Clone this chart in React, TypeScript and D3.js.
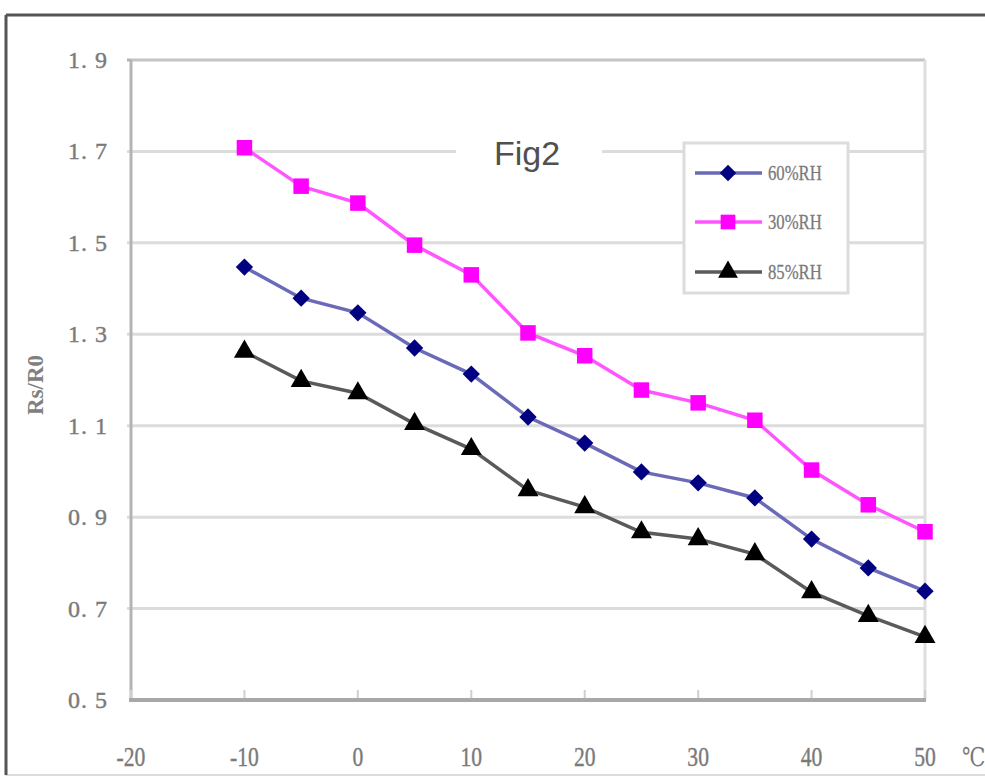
import React from "react";
import * as d3 from "d3";

const temps = [-10, -5, 0, 5, 10, 15, 20, 25, 30, 35, 40, 45, 50];
const rh60 = [1.447, 1.379, 1.347, 1.27, 1.213, 1.119, 1.062, 0.999, 0.975, 0.942, 0.852, 0.789, 0.738];
const rh30 = [1.708, 1.624, 1.587, 1.495, 1.43, 1.303, 1.253, 1.178, 1.15, 1.112, 1.003, 0.927, 0.868];
const rh85 = [1.262, 1.198, 1.171, 1.104, 1.049, 0.959, 0.922, 0.867, 0.852, 0.819, 0.736, 0.684, 0.638];
const xTicks = [-20, -10, 0, 10, 20, 30, 40, 50];
const yTicks = [0.5, 0.7, 0.9, 1.1, 1.3, 1.5, 1.7, 1.9];
const seriesNames = ["60%RH", "30%RH", "85%RH"];

const W = 985;
const H = 776;
const L = 131, R = 925, T = 60, B = 700;

export default function App() {
  const x = d3.scaleLinear().domain([-20, 50]).range([L, R]);
  const y = d3.scaleLinear().domain([0.5, 1.9]).range([B, T]);
  const series = [
    { name: seriesNames[0], values: rh60, line: "#6a6ab8", marker: "#000080", shape: "diamond" },
    { name: seriesNames[1], values: rh30, line: "#ff55ff", marker: "#ff00ff", shape: "square" },
    { name: seriesNames[2], values: rh85, line: "#5a5a5a", marker: "#000000", shape: "triangle" },
  ];
  const line = d3.line<number>().x((_, i) => x(temps[i])).y((v) => y(v));
  const sym = (shape: string, k: number) => {
    if (shape === "diamond") return d3.symbol().type(d3.symbolSquare).size(150 * k)() as string;
    if (shape === "square") return d3.symbol().type(d3.symbolSquare).size(240 * k)() as string;
    return d3.symbol().type(d3.symbolTriangle).size(190 * k)() as string;
  };
  const rot = (shape: string) => (shape === "diamond" ? " rotate(45)" : "");
  const serif = "'Liberation Serif', 'DejaVu Serif', serif";
  const legendX = 684, legendY = 143, legendW = 164, legendH = 150;
  const legendRows = [173, 222, 272];
  const labelFill = "#7a7a7a";

  return (
    <svg width={W} height={H} style={{ position: "absolute", left: 0, top: 0, background: "#fff" }}>
      <rect x={0} y={0} width={W} height={H} fill="#fff" />
      {/* outer chart border */}
      <rect x={6} y={15} width={W + 20} height={760} fill="none" stroke="#d0d0d0" strokeWidth={1.5} />
      <line x1={6} y1={15} x2={W} y2={15} stroke="#555" strokeWidth={3} />
      <line x1={6} y1={15} x2={6} y2={775} stroke="#555" strokeWidth={3} />

      {/* gridlines */}
      {yTicks.slice(1, -1).map((t) => (
        <line key={t} x1={L - 4} x2={R} y1={y(t)} y2={y(t)} stroke="#dcdcdc" strokeWidth={3} />
      ))}
      {/* plot frame */}
      <line x1={L} x2={R} y1={T} y2={T} stroke="#c4c4c4" strokeWidth={3} />
      <line x1={R} x2={R} y1={T} y2={B} stroke="#dedede" strokeWidth={3} />
      <line x1={L} x2={L} y1={T} y2={B} stroke="#b4b4b4" strokeWidth={3} />
      <line x1={L - 4} x2={L} y1={T} y2={T} stroke="#b4b4b4" strokeWidth={3} />
      {xTicks.map((t) => (
        <line key={t} x1={x(t)} x2={x(t)} y1={B} y2={B - 10} stroke="#cfcfcf" strokeWidth={2} />
      ))}
      <line x1={L - 2} x2={R + 1} y1={B} y2={B} stroke="#a8a8a8" strokeWidth={4} />

      {/* y tick labels */}
      {yTicks.map((t) => (
        <text key={t} x={108} y={y(t) + 8} textAnchor="end" fontFamily={serif} fontSize={24}
          fill={labelFill} stroke={labelFill} strokeWidth={0.4} letterSpacing={1}>
          {t.toFixed(1).replace(".", ". ")}
        </text>
      ))}
      {/* x tick labels */}
      {xTicks.map((t) => (
        <text key={t} transform={`translate(${x(t)},${766}) scale(0.8,1)`} textAnchor="middle"
          fontFamily={serif} fontSize={27} fill={labelFill} stroke={labelFill} strokeWidth={0.4}>
          {t < 0 ? "-" + Math.abs(t) : String(t)}
        </text>
      ))}
      <text transform={`translate(${962},${766}) scale(0.8,1)`} fontFamily={serif} fontSize={26}
        fill={labelFill}>℃</text>

      {/* y axis title */}
      <text transform={`translate(${43},${385}) rotate(-90)`} textAnchor="middle" fontFamily={serif}
        fontSize={23} fontWeight="bold" fill="#808080">
        Rs/R0
      </text>

      {/* title */}
      <rect x={456} y={138} width={146} height={30} fill="#fff" />
      <text x={527} y={165} textAnchor="middle" fontFamily="'Liberation Sans', Arial, sans-serif"
        fontSize={34} fill="#505050">
        Fig2
      </text>

      {/* series */}
      {series.map((s) => (
        <g key={s.name}>
          <path d={line(s.values) as string} fill="none" stroke={s.line} strokeWidth={3.5} />
          {s.values.map((v, i) => (
            <path key={i} d={sym(s.shape, 1)} fill={s.marker}
              transform={`translate(${x(temps[i])},${y(v)})${rot(s.shape)}`} />
          ))}
        </g>
      ))}

      {/* legend */}
      <rect x={legendX} y={legendY} width={legendW} height={legendH} fill="#fff" stroke="#dcdcdc" strokeWidth={3} />
      {series.map((s, i) => (
        <g key={s.name}>
          <line x1={695} x2={762} y1={legendRows[i]} y2={legendRows[i]} stroke={s.line} strokeWidth={3.5} />
          <path d={sym(s.shape, 0.9)} fill={s.marker}
            transform={`translate(${728},${legendRows[i]})${rot(s.shape)}`} />
          <text transform={`translate(${768},${legendRows[i] + 7}) scale(0.76,1)`} fontFamily={serif}
            fontSize={22} fill={labelFill} stroke={labelFill} strokeWidth={0.3}>
            {s.name}
          </text>
        </g>
      ))}
    </svg>
  );
}
